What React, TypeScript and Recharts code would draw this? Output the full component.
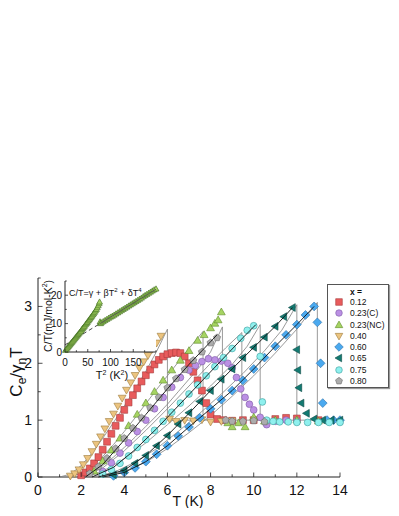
import React from "react";
import { ScatterChart, Scatter, XAxis, YAxis, CartesianGrid } from "recharts";

const FONT = '"Liberation Sans", Arial, Helvetica, sans-serif';

// axes
const xTicks = [0, 1, 2, 3, 4, 5, 6, 7, 8, 9, 10, 11, 12, 13, 14];
const xLabels = [0, 2, 4, 6, 8, 10, 12, 14];
const yTicks = [0, 0.5, 1, 1.5, 2, 2.5, 3, 3.5];
const yLabels = [0, 1, 2, 3];
const insetXTicks = [0, 25, 50, 75, 100, 125, 150, 175, 200];
const insetXLabels = [0, 50, 100, 150];
const insetYTicks = [0, 5, 10, 15, 20, 25];
const insetYLabels = [0, 10, 20];

// legend / series meta
const seriesNames = ["0.12", "0.23(C)", "0.23(NC)", "0.40", "0.60", "0.65", "0.75", "0.80"];
const seriesFill = ["#e85b5c", "#bb90e4", "#a6d462", "#ecc47f", "#4aa9ef", "#137a72", "#8ff0ee", "#acacac"];
const seriesStroke = ["#a83a3a", "#7d5aa5", "#5e8c2a", "#9c7a3c", "#2a6fa8", "#0b4a45", "#3a9c9c", "#6c6c6c"];
const seriesShape = ["square", "circle", "triUp", "triDown", "diamond", "triLeft", "circle", "pentagon"];

// measured Ce/(gamma_n T) vs T
const t012 = [2.0, 2.2, 2.4, 2.6, 2.8, 3.0, 3.2, 3.4, 3.6, 3.8, 4.0, 4.2, 4.4, 4.6, 4.8, 5.0, 5.2, 5.4, 5.6, 5.8, 6.0, 6.2, 6.4, 6.6, 6.8, 7.0, 7.2, 7.4, 7.6, 7.8, 8.0, 8.3, 8.6, 9.0, 9.5, 10.0, 11.0, 11.5, 12.0, 13.0];
const v012 = [0.03, 0.08, 0.15, 0.24, 0.35, 0.48, 0.62, 0.76, 0.9, 1.04, 1.18, 1.31, 1.44, 1.56, 1.68, 1.79, 1.89, 1.98, 2.06, 2.12, 2.16, 2.18, 2.19, 2.18, 2.12, 2.0, 1.85, 1.7, 1.52, 1.3, 1.1, 1.02, 1.0, 0.99, 1.0, 1.0, 1.02, 1.04, 1.03, 1.0];
const t023c = [3.0, 3.4, 3.8, 4.2, 4.6, 5.0, 5.4, 5.8, 6.2, 6.6, 7.0, 7.3, 7.6, 7.9, 8.2, 8.5, 8.8, 9.0, 9.2, 9.4, 9.6, 9.8, 10.0, 10.3, 10.6, 11.0, 11.5, 12.0];
const v023c = [0.1, 0.25, 0.42, 0.6, 0.8, 1.0, 1.2, 1.4, 1.58, 1.75, 1.88, 1.96, 2.03, 2.08, 2.06, 2.04, 2.0, 1.92, 1.75, 1.55, 1.4, 1.28, 1.18, 1.05, 0.92, 0.98, 1.0, 0.99];
const t023n = [2.6, 3.0, 3.4, 3.8, 4.2, 4.6, 5.0, 5.4, 5.8, 6.2, 6.6, 7.0, 7.4, 7.7, 8.0, 8.2, 8.35, 8.5, 8.8, 9.0, 9.3, 9.6, 10.0, 10.5, 11.0, 12.0, 13.0];
const v023n = [0.1, 0.28, 0.47, 0.68, 0.9, 1.1, 1.3, 1.5, 1.7, 1.88, 2.05, 2.22, 2.4, 2.5, 2.62, 2.7, 2.76, 2.9, 0.95, 0.88, 0.95, 0.88, 1.05, 0.98, 1.0, 1.0, 0.98];
const t040 = [1.5, 1.7, 1.9, 2.1, 2.3, 2.5, 2.7, 2.9, 3.1, 3.3, 3.5, 3.7, 3.9, 4.1, 4.3, 4.5, 4.7, 4.9, 5.1, 5.3, 5.5, 5.7, 6.1, 6.4, 6.8, 7.2, 7.6, 8.0, 8.5, 9.0];
const v040 = [0.02, 0.06, 0.13, 0.22, 0.33, 0.45, 0.58, 0.71, 0.85, 0.98, 1.11, 1.25, 1.39, 1.53, 1.66, 1.79, 1.92, 2.03, 2.14, 2.25, 2.36, 2.48, 1.02, 0.98, 1.0, 0.99, 1.01, 0.97, 0.98, 0.99];
const t060 = [3.5, 4.0, 4.5, 5.0, 5.5, 6.0, 6.5, 7.0, 7.5, 8.0, 8.5, 9.0, 9.5, 10.0, 10.5, 11.0, 11.5, 12.0, 12.4, 12.8, 12.95, 13.1, 13.2, 13.4, 13.7, 14.0];
const v060 = [0.02, 0.08, 0.16, 0.27, 0.4, 0.55, 0.72, 0.88, 1.04, 1.2, 1.36, 1.52, 1.7, 1.9, 2.1, 2.3, 2.5, 2.68, 2.85, 3.0, 2.72, 2.0, 1.3, 1.0, 1.0, 1.0];
const t065 = [3.5, 4.0, 4.5, 5.0, 5.5, 6.0, 6.5, 7.0, 7.5, 8.0, 8.5, 9.0, 9.5, 10.0, 10.5, 11.0, 11.4, 11.8, 12.0, 12.05, 12.1, 12.2, 12.45, 12.8, 13.2, 13.6, 14.0];
const v065 = [0.04, 0.12, 0.24, 0.38, 0.55, 0.73, 0.93, 1.13, 1.33, 1.52, 1.72, 1.9, 2.1, 2.28, 2.46, 2.65, 2.82, 2.98, 2.24, 1.88, 1.57, 1.3, 1.12, 1.02, 1.0, 1.0, 1.0];
const t075 = [3.0, 3.4, 3.8, 4.2, 4.6, 5.0, 5.4, 5.8, 6.2, 6.6, 7.0, 7.4, 7.8, 8.2, 8.6, 9.0, 9.4, 9.7, 10.0, 10.3, 10.4, 10.6, 10.9, 11.2, 11.6, 12.0, 12.5, 13.0, 13.5, 14.0];
const v075 = [0.05, 0.13, 0.24, 0.37, 0.52, 0.66, 0.82, 0.98, 1.14, 1.3, 1.46, 1.62, 1.78, 1.94, 2.1, 2.26, 2.44, 2.58, 2.66, 2.12, 1.32, 1.0, 0.98, 0.97, 0.97, 0.96, 0.96, 0.96, 0.96, 0.96];
const t080 = [2.4, 2.8, 3.2, 3.6, 4.0, 4.4, 4.8, 5.2, 5.6, 6.0, 6.4, 6.8, 7.2, 7.6, 8.0, 8.3, 8.7, 9.0, 9.5, 10.0, 10.5];
const v080 = [0.06, 0.18, 0.33, 0.5, 0.68, 0.86, 1.04, 1.22, 1.4, 1.57, 1.73, 1.89, 2.05, 2.2, 2.36, 2.45, 1.0, 0.98, 0.98, 0.99, 0.97];

const seriesT = [t012, t023c, t023n, t040, t060, t065, t075, t080];
const seriesV = [v012, v023c, v023n, v040, v060, v065, v075, v080];

// thin gray model curves (with the jump at Tc)
const modelT = [
  [1.0, 1.5, 2.0, 2.5, 3.0, 3.5, 4.0, 4.5, 5.0, 5.5, 6.0, 6.0],
  [1.4, 2.0, 2.5, 3.0, 3.5, 4.0, 4.5, 5.0, 5.5, 6.0, 6.5, 7.0, 7.65, 7.65],
  [1.8, 2.5, 3.0, 3.5, 4.0, 4.5, 5.0, 5.5, 6.0, 6.5, 7.0, 7.5, 8.0, 8.55, 8.55],
  [2.0, 3.0, 4.0, 5.0, 6.0, 7.0, 8.0, 8.7, 9.45, 9.45],
  [2.2, 3.0, 4.0, 5.0, 6.0, 7.0, 8.0, 9.0, 9.7, 10.3, 10.3],
  [2.5, 3.5, 4.5, 5.5, 6.5, 7.5, 8.5, 9.5, 10.5, 11.3, 12.0, 12.0],
  [2.8, 4.0, 5.0, 6.0, 7.0, 8.0, 9.0, 10.0, 11.0, 12.0, 12.95, 12.95],
  [6.0, 14.0],
];
const modelV = [
  [0, 0.05, 0.2, 0.42, 0.68, 0.96, 1.25, 1.54, 1.86, 2.21, 2.6, 1.0],
  [0, 0.06, 0.18, 0.36, 0.57, 0.8, 1.04, 1.29, 1.54, 1.78, 2.02, 2.26, 2.56, 1.0],
  [0, 0.08, 0.2, 0.35, 0.52, 0.7, 0.89, 1.08, 1.28, 1.5, 1.72, 1.94, 2.2, 2.64, 1.0],
  [0, 0.16, 0.46, 0.82, 1.2, 1.6, 2.0, 2.27, 2.54, 1.0],
  [0, 0.1, 0.32, 0.6, 0.92, 1.25, 1.6, 1.98, 2.3, 2.68, 1.0],
  [0, 0.08, 0.26, 0.5, 0.8, 1.12, 1.46, 1.82, 2.22, 2.58, 3.03, 1.0],
  [0, 0.1, 0.26, 0.5, 0.78, 1.08, 1.42, 1.78, 2.18, 2.6, 3.07, 1.0],
  [1.0, 1.0],
];

// black fits
const fitT = [
  [2.2, 3.0, 4.0, 5.0, 6.0, 7.0, 8.0, 8.3],
  [2.5, 3.5, 4.5, 5.5, 6.5, 7.5, 8.5, 9.5, 10.1],
  [2.8, 4.0, 5.0, 6.0, 7.0, 8.0, 9.0, 10.0, 11.0, 11.8],
  [3.0, 4.0, 5.0, 6.0, 7.0, 8.0, 9.0, 10.0, 11.0, 12.0, 12.8],
];
const fitV = [
  [0, 0.22, 0.65, 1.1, 1.55, 1.98, 2.38, 2.5],
  [0, 0.17, 0.48, 0.85, 1.25, 1.65, 2.05, 2.45, 2.68],
  [0, 0.12, 0.38, 0.73, 1.12, 1.52, 1.9, 2.28, 2.65, 2.98],
  [0, 0.08, 0.27, 0.55, 0.88, 1.2, 1.52, 1.9, 2.3, 2.68, 3.0],
];

// inset: C/T vs T^2 for x = 0.23(NC)
const insetLowT2 = [1, 3, 5, 7, 9, 11, 13, 15, 17, 19, 21, 23, 25, 27, 29, 31, 33, 35, 37, 39, 41, 43, 45, 47, 49, 51, 53, 55, 57, 59, 61, 63, 65, 67, 69, 71, 73, 75, 76];
const insetLowCT = [0.6, 1.0, 1.4, 1.8, 2.2, 2.6, 3.0, 3.4, 3.8, 4.2, 4.6, 5.0, 5.4, 5.8, 6.2, 6.6, 7.0, 7.4, 7.9, 8.3, 8.7, 9.1, 9.6, 10.0, 10.4, 10.9, 11.3, 11.7, 12.2, 12.6, 13.1, 13.5, 14.0, 14.5, 15.0, 15.6, 16.3, 17.0, 17.6];
const insetHighT2 = [77, 78, 80, 84, 88, 92, 96, 100, 104, 108, 112, 116, 120, 124, 128, 132, 136, 140, 144, 148, 152, 156, 160, 164, 168, 172, 176, 180, 184, 188, 192, 196, 200];
const insetHighCT = [10.6, 10.0, 10.3, 10.7, 11.1, 11.5, 11.9, 12.3, 12.6, 13.0, 13.4, 13.8, 14.2, 14.6, 15.0, 15.4, 15.8, 16.2, 16.6, 17.0, 17.4, 17.8, 18.2, 18.6, 19.0, 19.5, 19.9, 20.3, 20.7, 21.1, 21.5, 21.9, 22.2];
const insetDashT2 = [0, 78];
const insetDashCT = [2.5, 10.1];
const insetFitT2 = [78, 200];
const insetFitCT = [10.1, 22.1];

const zip = (ts: number[], vs: number[]) => ts.map((T, i) => ({ T, v: vs[i] }));

function Mark({ shape, cx, cy, r, fill, stroke }: any) {
  if (cx == null || cy == null) return <g />;
  if (shape === "circle") return <circle cx={cx} cy={cy} r={r} fill={fill} stroke={stroke} strokeWidth={0.6} />;
  let d = "";
  if (shape === "square") d = `M${cx - r},${cy - r}h${2 * r}v${2 * r}h${-2 * r}Z`;
  if (shape === "triUp") d = `M${cx},${cy - r * 1.2}L${cx + r * 1.15},${cy + r * 0.8}L${cx - r * 1.15},${cy + r * 0.8}Z`;
  if (shape === "triDown") d = `M${cx},${cy + r * 1.2}L${cx + r * 1.15},${cy - r * 0.8}L${cx - r * 1.15},${cy - r * 0.8}Z`;
  if (shape === "triLeft") d = `M${cx - r * 1.2},${cy}L${cx + r * 0.8},${cy - r * 1.15}L${cx + r * 0.8},${cy + r * 1.15}Z`;
  if (shape === "diamond") d = `M${cx},${cy - r * 1.3}L${cx + r * 1.3},${cy}L${cx},${cy + r * 1.3}L${cx - r * 1.3},${cy}Z`;
  if (shape === "pentagon") {
    const pts = [0, 1, 2, 3, 4].map((k) => {
      const a = (-90 + 72 * k) * (Math.PI / 180);
      return `${cx + r * 1.1 * Math.cos(a)},${cy + r * 1.1 * Math.sin(a)}`;
    });
    d = `M${pts.join("L")}Z`;
  }
  return <path d={d} fill={fill} stroke={stroke} strokeWidth={0.6} />;
}

const tickText = { fontFamily: FONT, fill: "#111" };

const makeBottomTick = (labels: number[], fs: number, len: number, dy: number) => (p: any) => {
  const major = labels.includes(p.payload.value);
  return (
    <g>
      <line x1={p.x} x2={p.x} y1={p.y} y2={p.y - (major ? len : len * 0.6)} stroke="#222" strokeWidth={0.8} />
      {major && (
        <text x={p.x} y={p.y + dy} textAnchor="middle" fontSize={fs} {...tickText}>
          {p.payload.value}
        </text>
      )}
    </g>
  );
};
const makeLeftTick = (labels: number[], fs: number, len: number, dx: number) => (p: any) => {
  const major = labels.includes(p.payload.value);
  return (
    <g>
      <line x1={p.x} x2={p.x + (major ? len : len * 0.6)} y1={p.y} y2={p.y} stroke="#222" strokeWidth={0.8} />
      {major && (
        <text x={p.x - dx} y={p.y + fs * 0.36} textAnchor="end" fontSize={fs} {...tickText}>
          {p.payload.value}
        </text>
      )}
    </g>
  );
};
const makeTopTick = (labels: number[], len: number) => (p: any) => {
  const major = labels.includes(p.payload.value);
  return <line x1={p.x} x2={p.x} y1={p.y} y2={p.y + (major ? len : len * 0.6)} stroke="#222" strokeWidth={0.8} />;
};
const makeRightTick = (labels: number[], len: number) => (p: any) => {
  const major = labels.includes(p.payload.value);
  return <line x1={p.x} x2={p.x - (major ? len : len * 0.6)} y1={p.y} y2={p.y} stroke="#222" strokeWidth={0.8} />;
};

function Inset() {
  const low = zip(insetLowT2, insetLowCT);
  const high = zip(insetHighT2, insetHighCT);
  return (
    <ScatterChart width={140} height={125} margin={{ top: 8, right: 17, bottom: 0, left: 0 }}>
      <CartesianGrid fill="#fff" stroke="none" />
      <XAxis type="number" dataKey="T" domain={[0, 200]} ticks={insetXTicks} height={46} axisLine={{ stroke: "#222" }}
        tickLine={false} tickSize={0} tickMargin={0} interval={0} tick={makeBottomTick(insetXLabels, 10, 3, 14)} />
      <XAxis xAxisId="top" type="number" orientation="top" domain={[0, 200]} ticks={insetXTicks} height={0}
        axisLine={{ stroke: "#222" }} tickLine={false} tickSize={0} tickMargin={0} interval={0} tick={makeTopTick(insetXLabels, 3)} />
      <YAxis type="number" dataKey="v" domain={[0, 25]} ticks={insetYTicks} width={32} axisLine={{ stroke: "#222" }}
        tickLine={false} tickSize={0} tickMargin={0} interval={0} tick={makeLeftTick(insetYLabels, 10, 3, 3)} />
      <YAxis yAxisId="right" type="number" orientation="right" domain={[0, 25]} ticks={insetYTicks} width={0}
        axisLine={{ stroke: "#222" }} tickLine={false} tickSize={0} tickMargin={0} interval={0} tick={makeRightTick(insetYLabels, 3)} />
      <Scatter data={zip(insetDashT2, insetDashCT)} line={{ stroke: "#333", strokeWidth: 0.9, strokeDasharray: "4 3" }}
        shape={() => <g />} isAnimationActive={false} />
      <Scatter data={low} shape={(p: any) => <Mark shape="triUp" cx={p.cx} cy={p.cy} r={2.6} fill="#a6d462" stroke="#3d6a1e" />}
        isAnimationActive={false} />
      <Scatter data={high} shape={(p: any) => <Mark shape="triUp" cx={p.cx} cy={p.cy} r={2.6} fill="#a6d462" stroke="#3d6a1e" />}
        isAnimationActive={false} />
      <Scatter data={zip(insetFitT2, insetFitCT)} line={{ stroke: "#555", strokeWidth: 0.9 }} shape={() => <g />}
        isAnimationActive={false} />
    </ScatterChart>
  );
}

function LegendBox() {
  return (
    <div style={{ position: "absolute", left: 319, top: 276, width: 60, height: 102, border: "1px solid #555",
      background: "#fff", boxShadow: "1px 1px 1px #999", fontFamily: FONT, fontSize: 8.5, color: "#111" }}>
      <div style={{ position: "absolute", left: 22, top: 2, fontWeight: "bold" }}>x =</div>
      {seriesNames.map((n, i) => (
        <div key={n} style={{ position: "absolute", left: 0, top: 12 + i * 11.25, height: 10, display: "flex", alignItems: "center" }}>
          <svg width={20} height={10} style={{ display: "block" }}>
            <Mark shape={seriesShape[i]} cx={11} cy={5} r={3.3} fill={seriesFill[i]} stroke={seriesStroke[i]} />
          </svg>
          <span style={{ marginLeft: 2, lineHeight: "10px" }}>{n}</span>
        </div>
      ))}
    </div>
  );
}

export default function App() {
  return (
    <div style={{ position: "relative", width: 391, height: 500 }}>
      <ScatterChart width={391} height={500} margin={{ top: 270, right: 59, bottom: 0, left: 0 }}>
        <XAxis type="number" dataKey="T" domain={[0, 14]} ticks={xTicks} height={31} axisLine={{ stroke: "#222" }}
          tickLine={false} tickSize={0} tickMargin={0} interval={0} tick={makeBottomTick(xLabels, 14, 4.5, 18)} />
        <XAxis xAxisId="top" type="number" orientation="top" domain={[0, 14]} ticks={xTicks} height={0}
          axisLine={{ stroke: "#222" }} tickLine={false} tickSize={0} tickMargin={0} interval={0} tick={makeTopTick(xLabels, 4.5)} />
        <YAxis type="number" dataKey="v" domain={[0, 3.5]} ticks={yTicks} width={30} axisLine={{ stroke: "#222" }}
          tickLine={false} tickSize={0} tickMargin={0} interval={0} tick={makeLeftTick(yLabels, 14, 4.5, 6)} />
        <YAxis yAxisId="right" type="number" orientation="right" domain={[0, 3.5]} ticks={yTicks} width={0}
          axisLine={{ stroke: "#222" }} tickLine={false} tickSize={0} tickMargin={0} interval={0} tick={makeRightTick(yLabels, 4.5)} />
        {modelT.map((ts, i) => (
          <Scatter key={"m" + i} data={zip(ts, modelV[i])} line={{ stroke: "#808080", strokeWidth: 0.8 }}
            shape={() => <g />} isAnimationActive={false} legendType="none" />
        ))}
        {seriesT.map((ts, i) => (
          <Scatter key={seriesNames[i]} name={seriesNames[i]} data={zip(ts, seriesV[i])} isAnimationActive={false}
            shape={(p: any) => <Mark shape={seriesShape[i]} cx={p.cx} cy={p.cy} r={3.4} fill={seriesFill[i]} stroke={seriesStroke[i]} />} />
        ))}
        {fitT.map((ts, i) => (
          <Scatter key={"f" + i} data={zip(ts, fitV[i])} line={{ stroke: "#111", strokeWidth: 0.9 }}
            shape={() => <g />} isAnimationActive={false} legendType="none" />
        ))}
      </ScatterChart>

      <div style={{ position: "absolute", left: 25, top: 265 }}>
        <Inset />
      </div>

      <div style={{ position: "absolute", left: 61, top: 279, fontFamily: FONT, fontSize: 9, lineHeight: 1, color: "#111", whiteSpace: "nowrap" }}>
        C/T=γ + βT<sup style={{ fontSize: 6 }}>2</sup> + δT<sup style={{ fontSize: 6 }}>4</sup>
      </div>
      <div style={{ position: "absolute", left: 39, top: 308, transform: "translate(-50%,-50%) rotate(-90deg)",
        fontFamily: FONT, fontSize: 10.5, lineHeight: 1, color: "#111", whiteSpace: "nowrap" }}>
        C/T(mJ/mol-K<sup style={{ fontSize: 7 }}>2</sup>)
      </div>
      <div style={{ position: "absolute", left: 104, top: 367, transform: "translate(-50%,-50%)",
        fontFamily: FONT, fontSize: 11, lineHeight: 1, color: "#111", whiteSpace: "nowrap" }}>
        T<sup style={{ fontSize: 7 }}>2</sup> (K<sup style={{ fontSize: 7 }}>2</sup>)
      </div>

      <div style={{ position: "absolute", left: 10, top: 364, transform: "translate(-50%,-50%) rotate(-90deg)",
        fontFamily: FONT, fontSize: 17, lineHeight: 1, color: "#111", whiteSpace: "nowrap" }}>
        C<sub style={{ fontSize: 12 }}>e</sub>/γ<sub style={{ fontSize: 12 }}>n</sub>T
      </div>
      <div style={{ position: "absolute", left: 180, top: 493, transform: "translate(-50%,-50%)",
        fontFamily: FONT, fontSize: 14, lineHeight: 1, color: "#111", whiteSpace: "nowrap" }}>
        T (K)
      </div>

      <LegendBox />
    </div>
  );
}
